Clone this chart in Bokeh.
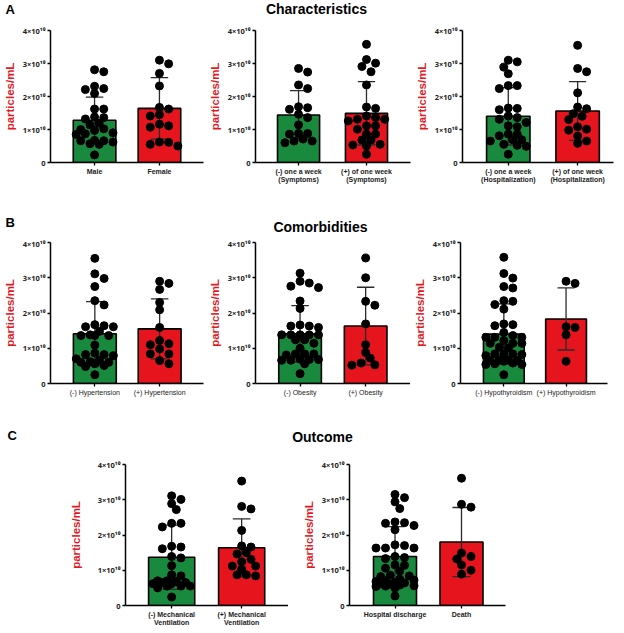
import numpy as np
from bokeh.plotting import figure
from bokeh.layouts import column, row, Spacer
from bokeh.models import Range1d, FixedTicker
from bokeh.core.properties import value
from bokeh.embed import file_html
from bokeh.resources import INLINE

# ---------------- data (values in units of 1e10 particles/mL) ----------------
Y_TICKS = [0, 1, 2, 3, 4]
Y_TICK_LABELS = ["0", "1×10¹⁰", "2×10¹⁰", "3×10¹⁰", "4×10¹⁰"]
Y_LABEL = "particles/mL"

A_TITLE = "Characteristics"
B_TITLE = "Comorbidities"
C_TITLE = "Outcome"

a1_labels = ["Male", "Female"]
a1_means = [1.28, 1.64]
a1_sds = [0.70, 0.93]
a1_neg = [2.81, 2.75, 2.31, 2.24, 2.21, 2.09, 1.62, 1.62, 1.38, 1.36, 1.32, 1.19, 1.14,
          1.02, 1.00, 0.97, 0.87, 0.85, 0.67, 0.66, 0.66, 0.62, 0.57, 0.55, 0.23, 0.90]
a1_pos = [3.10, 2.99, 2.70, 2.32, 1.67, 1.62, 1.45, 1.41, 1.16, 1.11, 1.07, 0.62, 0.55, 0.50, 0.61]

a2_labels = ["(-) one a week\n(Symptoms)", "(+) of one week\n(Symptoms)"]
a2_means = [1.44, 1.49]
a2_sds = [0.74, 0.96]
a2_neg = [2.85, 2.74, 2.35, 2.24, 1.69, 1.66, 1.61, 1.46, 1.36, 1.14, 0.88, 0.88, 0.86,
          0.71, 0.65, 0.65, 0.60]
a2_pos = [3.58, 3.12, 3.01, 2.91, 2.75, 2.35, 1.68, 1.64, 1.41, 1.36, 1.31, 1.31, 1.26,
          1.11, 1.11, 1.01, 0.86, 0.86, 0.68, 0.68, 0.55, 0.53, 0.50, 0.25]

a3_labels = ["(-) one a week\n(Hospitalization)", "(+) of one week\n(Hospitalization)"]
a3_means = [1.40, 1.56]
a3_sds = [0.87, 0.89]
a3_neg = [3.10, 3.05, 2.89, 2.69, 2.33, 2.33, 2.24, 1.65, 1.64, 1.60, 1.41, 1.36, 1.31,
          1.21, 1.11, 1.08, 0.86, 0.86, 0.81, 0.69, 0.69, 0.65, 0.55, 0.52, 0.49, 0.25]
a3_pos = [3.55, 2.85, 2.75, 2.11, 1.68, 1.63, 1.48, 1.40, 1.30, 1.08, 1.01, 0.98, 0.80, 0.65, 0.58]

b1_labels = ["(-) Hypertension", "(+) Hypertension"]
b1_means = [1.41, 1.55]
b1_sds = [0.91, 0.85]
b1_neg = [3.55, 3.11, 2.98, 2.75, 2.35, 2.23, 1.67, 1.64, 1.61, 1.61, 1.48, 1.38, 1.36,
          1.36, 1.36, 1.09, 0.86, 0.82, 0.79, 0.82, 0.70, 0.66, 0.60, 0.60, 0.51, 0.56,
          0.48, 0.62, 0.25]
b1_pos = [2.90, 2.84, 2.67, 2.30, 2.09, 1.59, 1.22, 1.13, 1.10, 0.98, 0.84, 0.84, 0.65, 0.56]

b2_labels = ["(-) Obesity", "(+) Obesity"]
b2_means = [1.41, 1.63]
b2_sds = [0.80, 1.10]
b2_neg = [3.13, 2.90, 2.85, 2.76, 2.72, 2.34, 2.13, 1.66, 1.63, 1.63, 1.59, 1.38, 1.38,
          1.38, 1.38, 1.38, 1.24, 1.24, 1.14, 1.00, 0.84, 0.84, 0.84, 0.81, 0.69, 0.68,
          0.68, 0.66, 0.66, 0.56, 0.28]
b2_pos = [3.56, 3.00, 2.33, 2.22, 1.69, 1.10, 0.88, 0.72, 0.58, 0.53, 0.52]

b3_labels = ["(-) Hypothyroidism", "(+) Hypothyroidism"]
b3_means = [1.40, 1.83]
b3_sds = [0.86, 0.88]
b3_neg = [3.58, 3.12, 2.99, 2.75, 2.71, 2.35, 2.33, 2.24, 2.11, 1.69, 1.67, 1.64, 1.45,
          1.36, 1.31, 1.31, 1.31, 1.22, 1.14, 1.14, 1.14, 1.03, 1.01, 0.84, 0.84, 0.84,
          0.82, 0.79, 0.67, 0.67, 0.65, 0.65, 0.63, 0.58, 0.56, 0.54, 0.54, 0.25]
b3_pos = [2.90, 2.84, 1.61, 1.59, 1.38, 0.63]

c1_labels = ["(-) Mechanical\nVentilation", "(+) Mechanical\nVentilation"]
c1_means = [1.37, 1.64]
c1_sds = [0.91, 0.82]
c1_neg = [3.11, 3.01, 2.89, 2.72, 2.33, 2.33, 2.23, 1.68, 1.66, 1.61, 1.39, 1.35, 1.13,
          0.87, 0.84, 0.70, 0.70, 0.68, 0.65, 0.65, 0.62, 0.62, 0.55, 0.55, 0.55, 0.50, 0.24]
c1_pos = [3.53, 2.81, 2.74, 2.13, 1.69, 1.66, 1.50, 1.46, 1.31, 1.24, 1.12, 1.12, 1.03,
          0.87, 0.87, 0.84]

c2_labels = ["Hospital discharge", "Death"]
c2_means = [1.39, 1.80]
c2_sds = [0.85, 0.98]
c2_neg = [3.15, 3.06, 2.94, 2.75, 2.37, 2.35, 2.27, 2.33, 2.15, 1.72, 1.70, 1.63, 1.63,
          1.63, 1.39, 1.36, 1.33, 1.15, 1.14, 1.06, 0.98, 0.86, 0.84, 0.82, 0.72, 0.70,
          0.68, 0.66, 0.64, 0.62, 0.60, 0.58, 0.56, 0.55, 0.54, 0.50, 0.27, 0.75]
c2_pos = [3.61, 2.87, 2.79, 1.49, 1.39, 1.32, 1.15, 1.00, 0.89]

# ---------------- styling ----------------
GREEN = "#19893d"
RED = "#e5141d"
LABEL_RED = "#e2191f"
FONT = "Liberation Sans"
TICK_FONT = "Noto Sans"
DOT_D = 8.0


def swarm(vals, px_per_unit, step=4.75, d=DOT_D, max_off=20.0):
    """Deterministic beeswarm offsets (pixels) for the dots of one bar."""
    order = sorted(range(len(vals)), key=lambda i: -vals[i])
    cands = [0.0]
    j = 1
    while j * step <= max_off:
        cands += [j * step, -j * step]
        j += 1
    placed = []
    offs = [0.0] * len(vals)
    for i in order:
        y = vals[i] * px_per_unit
        best, best_d = None, -1.0
        for ox in cands:
            md = min([((ox - px) ** 2 + (y - py) ** 2) ** 0.5 for px, py in placed] + [99.0])
            if md >= 0.9 * d:
                best = ox
                break
            if md > best_d:
                best, best_d = ox, md
        placed.append((best, y))
        offs[i] = best
    return offs


def panel(labels, means, sds, groups, width, height, left, right, top, bottom,
          centers, bar_w, xlab_style="bold", label_standoff=4):
    fw = width - left - right
    fh = height - top - bottom
    c1, c2 = centers
    u = float(c2 - c1)
    p = figure(width=width, height=height,
               x_range=Range1d(-c1 / u, (fw - c1) / u), y_range=Range1d(0, 4),
               toolbar_location=None, output_backend="svg",
               min_border_left=left, min_border_right=right,
               min_border_top=top, min_border_bottom=bottom)
    p.outline_line_color = None
    p.grid.visible = False
    p.background_fill_color = "white"
    xs = [0, 1]
    p.vbar(x=xs, top=means, width=bar_w / u, bottom=0,
           fill_color=[GREEN, RED], line_color="black", line_width=1.6)
    lo = [m - s for m, s in zip(means, sds)]
    hi = [m + s for m, s in zip(means, sds)]
    cap = 9.0 / u
    p.segment(x0=xs, y0=lo, x1=xs, y1=hi, line_color="#2b2b2b", line_width=1.3)
    p.segment(x0=[x - cap for x in xs], y0=hi, x1=[x + cap for x in xs], y1=hi,
              line_color="#2b2b2b", line_width=1.3)
    p.segment(x0=[x - cap for x in xs], y0=lo, x1=[x + cap for x in xs], y1=lo,
              line_color="#2b2b2b", line_width=1.3)
    ppu = fh / 4.0
    for x, vals in zip(xs, groups):
        offs = swarm(vals, ppu)
        p.scatter(x=[x + o / u for o in offs], y=vals, size=DOT_D,
                  fill_color="black", line_color="black")
    # axes
    p.xaxis.ticker = FixedTicker(ticks=xs)
    p.xaxis.major_label_overrides = {0: labels[0], 1: labels[1]}
    p.yaxis.ticker = FixedTicker(ticks=Y_TICKS)
    p.yaxis.major_label_overrides = {t: l for t, l in zip(Y_TICKS, Y_TICK_LABELS)}
    for ax in (p.xaxis[0], p.yaxis[0]):
        ax.axis_line_width = 1.5
        ax.axis_line_color = "black"
        ax.major_tick_line_color = "black"
        ax.major_tick_line_width = 1.3
        ax.major_tick_in = 0
        ax.major_tick_out = 3
        ax.minor_tick_line_color = None
        ax.major_label_text_font_style = "bold"
        ax.major_label_text_color = "#222222"
        ax.major_label_standoff = 2
    p.xaxis.major_label_text_font = FONT
    p.xaxis.major_label_text_font_style = xlab_style
    p.xaxis.major_label_text_font_size = "7px"
    p.xaxis.major_label_text_line_height = 1.25
    p.yaxis.major_label_text_font = TICK_FONT
    p.yaxis.major_label_text_font_size = "7.5px"
    p.yaxis.axis_label = Y_LABEL
    p.yaxis.axis_label_text_font = FONT
    p.yaxis.axis_label_text_font_size = "11.5px"
    p.yaxis.axis_label_text_font_style = "bold"
    p.yaxis.axis_label_text_color = LABEL_RED
    p.yaxis.axis_label_standoff = label_standoff
    return p


def header(h, items):
    p = figure(width=624, height=h, x_range=Range1d(0, 624), y_range=Range1d(h, 0),
               toolbar_location=None, output_backend="svg", min_border=0)
    p.axis.visible = False
    p.grid.visible = False
    p.outline_line_color = None
    for x, y, txt, size, align in items:
        p.text(x=[x], y=[y], text=[txt], text_font=value(FONT),
               text_font_style="bold", text_font_size=value(size),
               text_align=align, text_baseline="middle", text_color="black")
    return p


hA = header(22, [(5, 9, "A", "13px", "left"), (316, 8, A_TITLE, "14px", "center")])
pA1 = panel(a1_labels, a1_means, a1_sds, [a1_neg, a1_pos], 205, 168, 45, 2, 8, 28, (45.5, 112.5), 44)
pA2 = panel(a2_labels, a2_means, a2_sds, [a2_neg, a2_pos], 207, 168, 43, 2, 8, 28, (45, 116), 44)
pA3 = panel(a3_labels, a3_means, a3_sds, [a3_neg, a3_pos], 212, 168, 41, 11, 8, 28, (48.5, 122), 46)

hB = header(48, [(5, 32, "B", "13px", "left"), (320, 36, B_TITLE, "14px", "center")])
pB1 = panel(b1_labels, b1_means, b1_sds, [b1_neg, b1_pos], 205, 167, 46, 2, 4, 22, (45.5, 112), 44, "normal")
pB2 = panel(b2_labels, b2_means, b2_sds, [b2_neg, b2_pos], 205, 167, 45, 0, 4, 22, (46, 113.7), 44, "normal")
pB3 = panel(b3_labels, b3_means, b3_sds, [b3_neg, b3_pos], 214, 167, 42, 17, 4, 22, (45.7, 111.3), 43, "normal")

hC = header(50, [(7, 30, "C", "13px", "left"), (322, 31, C_TITLE, "14px", "center")])
pC1 = panel(c1_labels, c1_means, c1_sds, [c1_neg, c1_pos], 222, 178, 56, 0, 9, 28, (47, 118.3), 47,
            "bold", 13)
pC2 = panel(c2_labels, c2_means, c2_sds, [c2_neg, c2_pos], 219, 178, 61, 2, 9, 28, (45.5, 112), 43)

layout = column(
    hA,
    row(pA1, pA2, pA3, spacing=0),
    hB,
    row(pB1, pB2, pB3, spacing=0),
    hC,
    row(Spacer(width=66, height=178), pC1, pC2, Spacer(width=117, height=178), spacing=0),
    spacing=0,
)

open("out.html", "w").write(file_html(layout, INLINE))
